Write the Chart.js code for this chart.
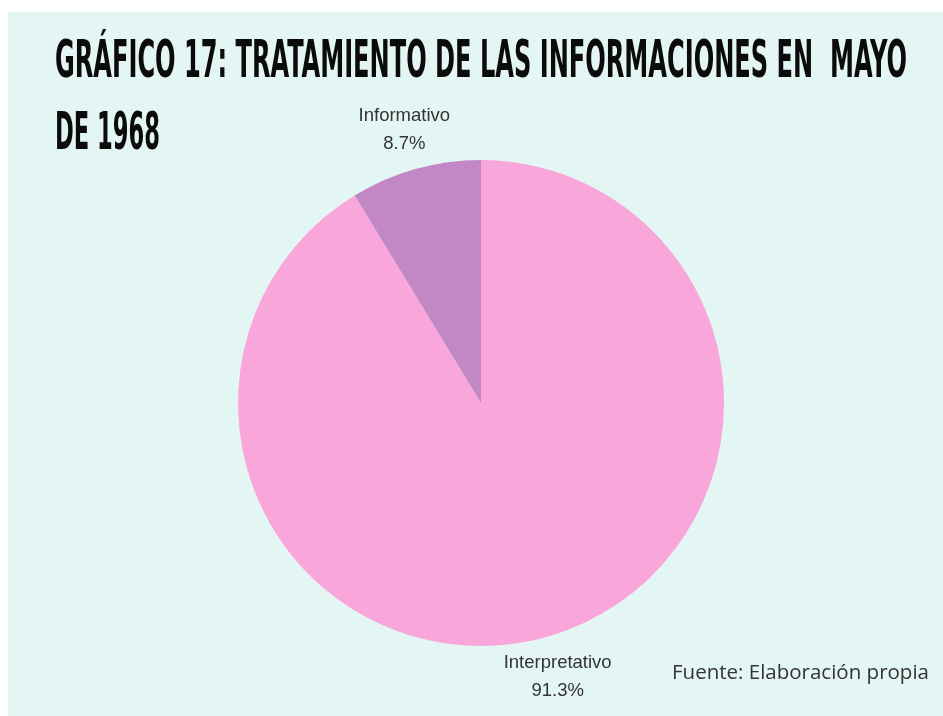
<!DOCTYPE html>
<html>
<head>
<meta charset="utf-8">
<script src="https://cdn.jsdelivr.net/npm/chart.js@4"></script>
<style>
    body { margin: 0; background: #fff; }
    #panel { position: absolute; left: 8px; top: 12px; width: 935px; height: 704px; background: #e4f6f4; }
</style>
</head>
<body>
<div id="panel"><canvas id="pieChart" width="935" height="704"></canvas></div>
<script>
const categories = ['Interpretativo', 'Informativo'];
const shares = [91.3, 8.7];
const sliceColors = ['#f9a6db', '#c287c5'];
const titleLines = ['GRÁFICO 17: TRATAMIENTO DE LAS INFORMACIONES EN  MAYO', 'DE 1968'];
const sourceText = 'Fuente: Elaboración propia';

// title drawn condensed, to mimic the poster typeface
const titlePlugin = {
    id: 'posterTitle',
    afterDraw(chart) {
        const ctx = chart.ctx;
        const rows = [{ y: 65, w: 852 }, { y: 137, w: 105 }];
        ctx.save();
        ctx.fillStyle = '#0b0b0b';
        ctx.font = 'bold 51px "Liberation Sans Narrow", "DejaVu Sans Condensed", "Liberation Sans", sans-serif';
        ctx.textBaseline = 'alphabetic';
        titleLines.forEach((line, i) => {
            const natural = ctx.measureText(line).width;
            const sx = rows[i].w / natural;
            ctx.save();
            ctx.translate(47, rows[i].y);
            ctx.scale(sx, 1);
            ctx.fillText(line, 0, 0);
            ctx.restore();
        });
        ctx.font = '20.5px "Open Sans", sans-serif';
        ctx.fillStyle = '#333';
        ctx.textAlign = 'left';
        ctx.textBaseline = 'middle';
        ctx.fillText(sourceText, 664, 661);
        ctx.restore();
    }
};

// outside labels placed from the arc geometry
const outLabels = {
    id: 'outLabels',
    afterDatasetsDraw(chart) {
        const ctx = chart.ctx;
        const meta = chart.getDatasetMeta(0);
        ctx.save();
        ctx.font = '18.5px "Liberation Sans", Arial, sans-serif';
        ctx.fillStyle = '#333';
        ctx.textAlign = 'center';
        ctx.textBaseline = 'middle';
        meta.data.forEach((arc, i) => {
            const p = arc.getProps(['x', 'y', 'startAngle', 'endAngle', 'outerRadius'], true);
            const mid = (p.startAngle + p.endAngle) / 2;
            const r = p.outerRadius + 41;
            const cx = p.x + Math.cos(mid) * r;
            const cy = p.y + Math.sin(mid) * r;
            ctx.fillText(categories[i], cx, cy - 14);
            ctx.fillText(shares[i].toFixed(1) + '%', cx, cy + 14);
        });
        ctx.restore();
    }
};

new Chart(document.getElementById('pieChart'), {
    type: 'pie',
    data: {
        labels: categories,
        datasets: [{
            data: shares,
            backgroundColor: sliceColors,
            borderWidth: 0
        }]
    },
    options: {
        responsive: false,
        animation: false,
        layout: { padding: { top: 148, bottom: 70, left: 230, right: 219 } },
        plugins: { legend: { display: false }, tooltip: { enabled: false } }
    },
    plugins: [outLabels, titlePlugin]
});
</script>
</body>
</html>
